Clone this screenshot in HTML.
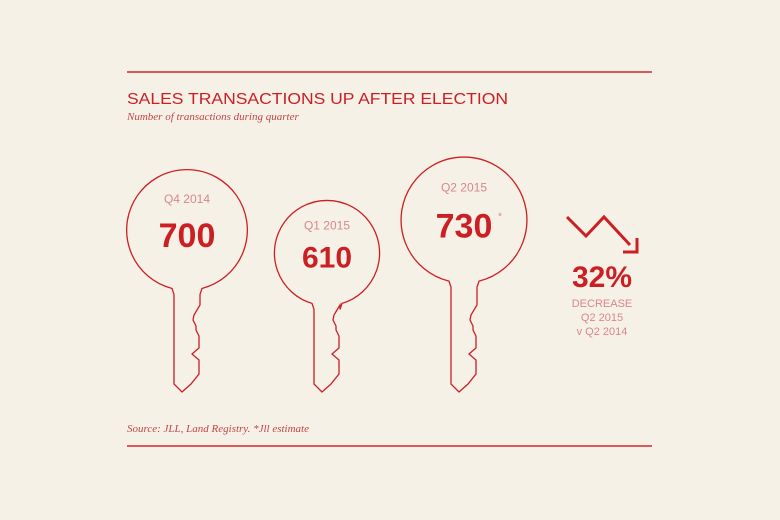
<!DOCTYPE html>
<html><head><meta charset="utf-8"><style>
body{margin:0;background:#f6f1e6;}
svg{display:block}
</style></head><body>
<svg width="780" height="520" viewBox="0 0 780 520">
<rect width="780" height="520" fill="#f6f1e6"/>
<line x1="127" y1="72" x2="652" y2="72" stroke="#d3262b" stroke-width="1.5"/>
<line x1="127" y1="446" x2="652" y2="446" stroke="#d3262b" stroke-width="1.5"/>
<text x="127" y="104" font-family="Liberation Sans, sans-serif" font-size="15.5" fill="#cc1f24" textLength="381" lengthAdjust="spacingAndGlyphs">SALES TRANSACTIONS UP AFTER ELECTION</text>
<text x="127" y="120" font-family="Liberation Serif, serif" font-style="italic" font-size="11" fill="#c0454a">Number of transactions during quarter</text>
<text x="127" y="432" font-family="Liberation Serif, serif" font-style="italic" font-size="11" fill="#c0454a">Source: JLL, Land Registry. *Jll estimate</text>
<g id="keys"></g>
<g>
<polyline points="567,217 586,236 604,217 630,245" fill="none" stroke="#cc1f24" stroke-width="3"/>
<polyline points="623,252 637,252 637,238" fill="none" stroke="#cc1f24" stroke-width="3"/>
<text x="602" y="287" text-anchor="middle" font-family="Liberation Sans, sans-serif" font-weight="bold" font-size="30" fill="#cc1f24">32%</text>
<text x="602" y="307" text-anchor="middle" font-family="Liberation Sans, sans-serif" font-size="11" fill="#d9868a">DECREASE</text>
<text x="602" y="321" text-anchor="middle" font-family="Liberation Sans, sans-serif" font-size="11" fill="#d9868a">Q2 2015</text>
<text x="602" y="335" text-anchor="middle" font-family="Liberation Sans, sans-serif" font-size="11" fill="#d9868a">v Q2 2014</text>
</g>
</svg>
<script>
const quarters=["Q4 2014","Q1 2015","Q2 2015"];
const values=[700,610,730];
const labels=["700","610","730"];
const estimated=[false,false,true];
const centersX=[187,327,464];
const circleCY=[230,253,220];
const tipY=392;
const rScale=v=>v*0.0862;
const NS="http://www.w3.org/2000/svg";
const g=document.getElementById('keys');
quarters.forEach((q,i)=>{
  const r=rScale(values[i]);
  const cx=centersX[i];
  const c=circleCY[i];
  const kg=document.createElementNS(NS,'g');
  
  
  const lx=cx-13,rx=cx+13;
  const ang=Math.asin(15/r);
  const ly=c+r*Math.cos(ang);
  const T=tipY;
  const d=`M ${cx-15} ${ly} A ${r} ${r} 0 1 1 ${cx+15} ${ly} L ${rx} ${ly+6} L ${rx} ${T-87} L ${cx+7} ${T-77} L ${cx+6} ${T-72} L ${cx+9} ${T-66} L ${cx+9} ${T-62} L ${cx+12} ${T-56} L ${cx+12} ${T-44} L ${cx+5} ${T-38} L ${cx+12} ${T-32} L ${cx+12} ${T-18} L ${cx+4} ${T-8} L ${cx-5} ${T} L ${lx} ${T-8} L ${lx} ${ly+6} Z`;
  const p=document.createElementNS(NS,'path');
  p.setAttribute('d',d);p.setAttribute('fill','none');p.setAttribute('stroke','#cc1f24');p.setAttribute('stroke-width','1.3');
  
  
  kg.appendChild(p);
  const t1=document.createElementNS(NS,'text');
  t1.setAttribute('x',cx);t1.setAttribute('y',c-r*0.45);t1.setAttribute('text-anchor','middle');
  t1.setAttribute('font-family','Liberation Sans, sans-serif');t1.setAttribute('font-size','12');t1.setAttribute('fill','#d9868a');
  t1.textContent=q;
  
  
  kg.appendChild(t1);
  const t2=document.createElementNS(NS,'text');
  t2.setAttribute('x',cx);t2.setAttribute('y',c+r*0.28);t2.setAttribute('text-anchor','middle');
  t2.setAttribute('font-family','Liberation Sans, sans-serif');t2.setAttribute('font-weight','bold');t2.setAttribute('font-size',i===1?'30':'34');t2.setAttribute('fill','#cc1f24');
  t2.textContent=labels[i];
  
  
  kg.appendChild(t2);
  if(estimated[i]){
    const s=document.createElementNS(NS,'text');
    s.setAttribute('x',cx+34);s.setAttribute('y',c+r*0.28-18);s.setAttribute('font-family','Liberation Sans, sans-serif');s.setAttribute('font-size','10');s.setAttribute('fill','#d9868a');
    s.textContent='*';
    
    
    kg.appendChild(s);
  }
  g.appendChild(kg);
});
</script>
</body></html>
